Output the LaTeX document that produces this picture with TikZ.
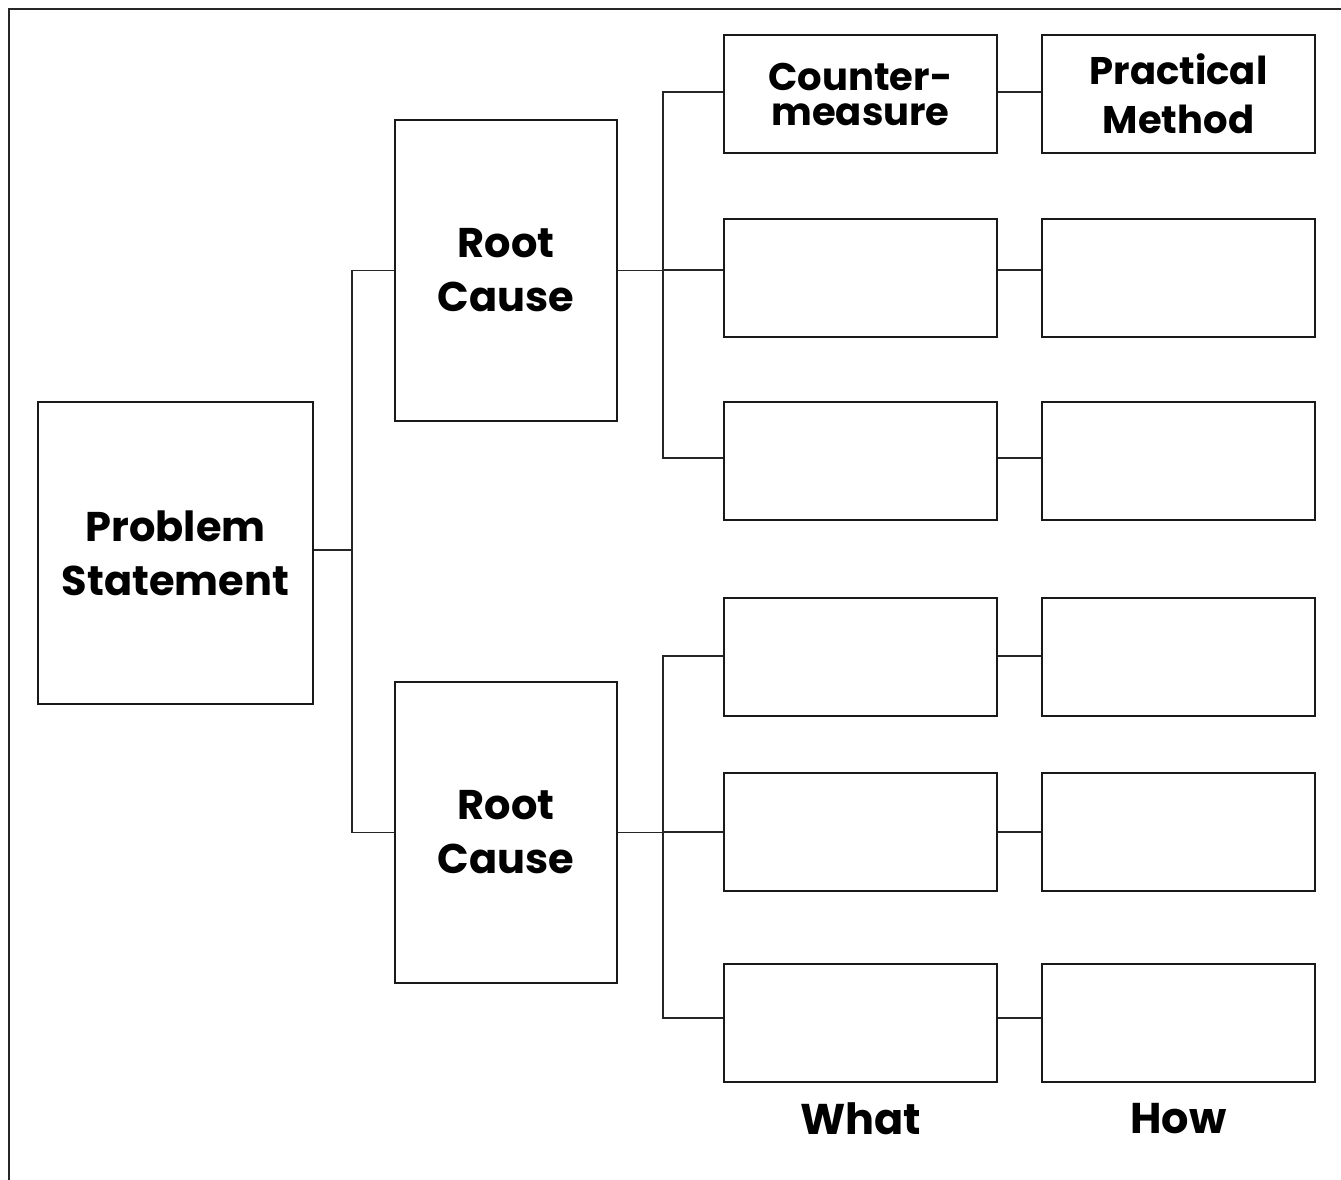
\documentclass[tikz,border=0pt]{standalone}
\usepackage{fontspec}
\setmainfont{Poppins}
\begin{document}
\begin{tikzpicture}[x=1pt,y=-1pt,
  box/.style={draw=black!90, line width=2pt, inner sep=0pt, align=center,
    font=\bfseries\fontsize{41.5}{54}\selectfont},
  cbox/.style={box, minimum width=273pt, minimum height=118pt},
  conn/.style={draw=black!85, line width=1.2pt},
  lbl/.style={font=\bfseries\fontsize{43}{46}\selectfont, inner sep=0pt}]
\useasboundingbox (0,0) rectangle (1341,1180);
\draw[line width=2.5pt, black!85] (9,1180) -- (9,9) -- (1341,9);

\node[box, minimum width=275pt, minimum height=302pt] (ps) at (175.5,553) {Problem\\Statement};
\node[box, minimum width=222pt, minimum height=301pt] (rc1) at (506,270.5) {Root\\Cause};
\node[box, minimum width=222pt, minimum height=301pt] (rc2) at (506,832.5) {Root\\Cause};

\node[cbox, font=\bfseries\fontsize{38.5}{35}\selectfont] (a1) at (860.5,94) {Counter-\\measure};
\node[cbox] (a2) at (860.5,278) {};
\node[cbox] (a3) at (860.5,461) {};
\node[cbox] (a4) at (860.5,657) {};
\node[cbox] (a5) at (860.5,832) {};
\node[cbox] (a6) at (860.5,1023) {};
\node[cbox, font=\bfseries\fontsize{38.5}{49}\selectfont] (b1) at (1178.5,94) {Practical\\Method};
\node[cbox] (b2) at (1178.5,278) {};
\node[cbox] (b3) at (1178.5,461) {};
\node[cbox] (b4) at (1178.5,657) {};
\node[cbox] (b5) at (1178.5,832) {};
\node[cbox] (b6) at (1178.5,1023) {};

\node[lbl] (what) at (860.5,1119) {What};
\node[lbl] (how) at (1178.5,1119) {How};

% junctions
\coordinate (j0) at (352,550);
\coordinate (k1) at (663,270.5);
\coordinate (k2) at (663,832.5);
\coordinate (r1) at (0,92);
\coordinate (r2) at (0,270);
\coordinate (r3) at (0,458);
\coordinate (r4) at (0,656);
\coordinate (r5) at (0,832);
\coordinate (r6) at (0,1018);

\draw[conn] (ps.east |- j0) -- (j0);
\draw[conn] (rc1.west) -| (j0) |- (rc2.west);

\draw[conn] (rc1.east) -- (k1);
\draw[conn] (a1.west |- r1) -| (k1 |- r3) -- (a3.west |- r3);
\draw[conn] (k1 |- r2) -- (a2.west |- r2);
\draw[conn] (rc2.east) -- (k2);
\draw[conn] (a4.west |- r4) -| (k2 |- r6) -- (a6.west |- r6);
\draw[conn] (k2 |- r5) -- (a5.west |- r5);

\foreach \i in {1,...,6} {
  \draw[conn] (a\i.east |- r\i) -- (b\i.west |- r\i);
}
\end{tikzpicture}
\end{document}
